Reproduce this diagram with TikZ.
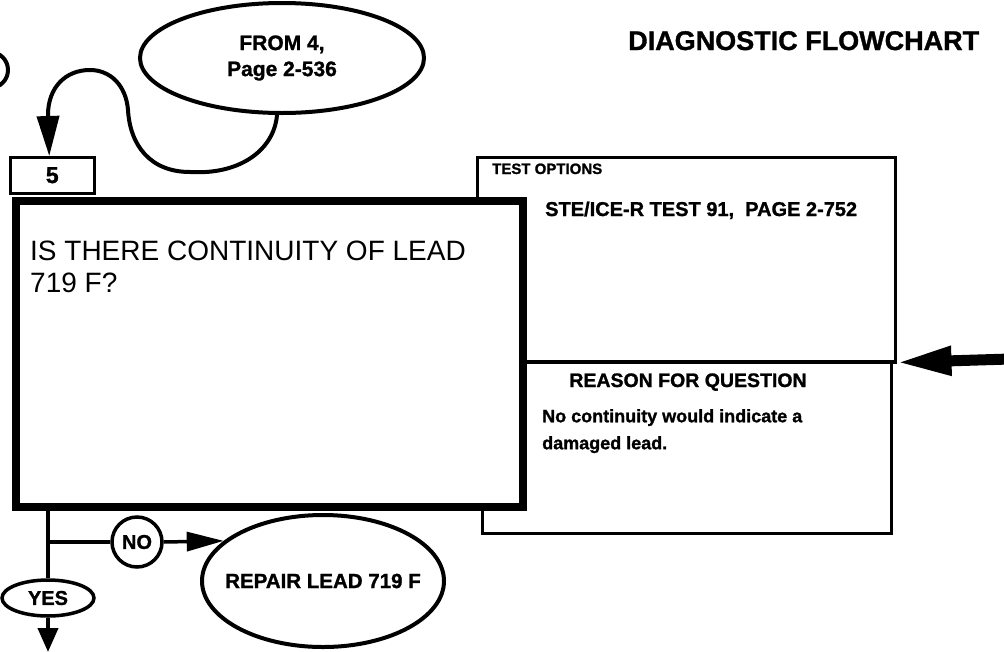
\documentclass[tikz,border=0pt]{standalone}
\usepackage{fontspec}
\setmainfont{Liberation Sans}[BoldFeatures={FakeBold=1.2}]
\usetikzlibrary{arrows.meta,shapes.geometric}
\begin{document}
\begin{tikzpicture}[x=1pt,y=-1pt,
  thinbox/.style={draw, line width=2.5pt, inner sep=0pt, anchor=north west},
  oval/.style={draw, ellipse, line width=4pt, inner sep=0pt, fill=white},
  lbl/.style={font=\bfseries\fontsize{17.5}{21.5}\selectfont, inner sep=0pt},
  conn/.style={line width=4pt},
  tipA/.style={-{Triangle[length=40pt,width=22pt]}},
  tipB/.style={-{Triangle[length=37pt,width=19pt]}},
  tipC/.style={-{Triangle[length=24pt,width=20pt]}},
  tipD/.style={-{Triangle[length=55pt,width=27pt]}}
]
\useasboundingbox (0,0) rectangle (1004,651);

% partial circle at left edge
\begin{scope}
\clip (0,0) rectangle (1004,651);
\node[draw, circle, line width=4pt, minimum size=36pt, inner sep=0pt] (prev) at (-10,70) {};
\end{scope}

% title
\node[lbl, font=\bfseries\fontsize{27}{30}\selectfont, anchor=base west] (title) at (628,50) {DIAGNOSTIC FLOWCHART};

% test options and reason boxes
\node[thinbox, minimum width=418pt, minimum height=204pt] (topt) at (476,156) {};
\node[thinbox, minimum width=409pt, minimum height=172pt] (reason) at (481,360) {};

% main question box
\node[draw, line width=8pt, fill=white, inner sep=0pt, anchor=north west,
      minimum width=507pt, minimum height=306pt] (qbox) at (12,197) {};
\draw[line width=3.5pt] (qbox.east |- topt.south) -- (topt.south east);

% step number box
\node[thinbox, fill=white, minimum width=84pt, minimum height=36pt] (box5) at (9,156) {};
\node[font=\bfseries\fontsize{23}{25}\selectfont, inner sep=0pt] (n5) at (box5.center) {5};

% texts
\node[inner sep=0pt, anchor=north west, align=left, font=\fontsize{28}{32}\selectfont] (qtext) at (30,241)
  {IS THERE CONTINUITY OF LEAD\\719 F?};
\node[lbl, font=\bfseries\fontsize{15}{18}\selectfont, anchor=base west] (toptt) at (492,174) {TEST OPTIONS};
\node[lbl, font=\bfseries\fontsize{20}{24}\selectfont, anchor=base west] (ste) at (545,216) {STE/ICE-R TEST 91,\ \ PAGE 2-752};
\node[lbl, font=\bfseries\fontsize{19.5}{24}\selectfont, anchor=base] (rq) at (688,387) {REASON FOR QUESTION};
\node[lbl, font=\bfseries\fontsize{18}{27}\selectfont, anchor=north west, align=left] (rtext) at (542,409) {No continuity would indicate a\\damaged lead.};

% ovals
\node[oval, minimum width=284pt, minimum height=110pt, align=center,
      font=\bfseries\fontsize{21}{26}\selectfont] (from) at (282,58) {FROM 4,\\Page 2-536};
\node[oval, minimum width=242pt, minimum height=132pt,
      font=\bfseries\fontsize{20.5}{24}\selectfont] (repair) at (323,581) {\makebox[0pt]{REPAIR LEAD 719 F}};
\node[draw, circle, line width=3.5pt, minimum size=50pt, inner sep=0pt,
      font=\bfseries\fontsize{20}{22}\selectfont] (no) at (137,542) {NO};
\node[oval, line width=3.5pt, minimum width=92pt, minimum height=36pt,
      font=\bfseries\fontsize{20}{22}\selectfont] (yes) at (48,598) {YES};

% connectors
\draw[conn, tipA] (from.265) .. controls (274,150) and (240,175) .. (190,172)
  .. controls (150,172) and (130,145) .. (128,110)
  .. controls (126,85) and (110,70) .. (90,70)
  .. controls (65,70) and (48,88) .. (48,115) -- ([xshift=-3pt]box5.north);

\coordinate (split) at (50,542);
\draw[conn] (qbox.south -| yes.north) -- (yes.north);
\draw[conn] (split) -- (no.west);
\draw[line width=3.5pt, tipB] (no.east) -- (repair.158);
\coordinate (down) at (48,652);
\draw[conn, tipC] (yes.south) -- (down);

\coordinate (rin) at (1010,359);
\draw[line width=11pt, tipD] (rin) -- (topt.south east);
\end{tikzpicture}
\end{document}
